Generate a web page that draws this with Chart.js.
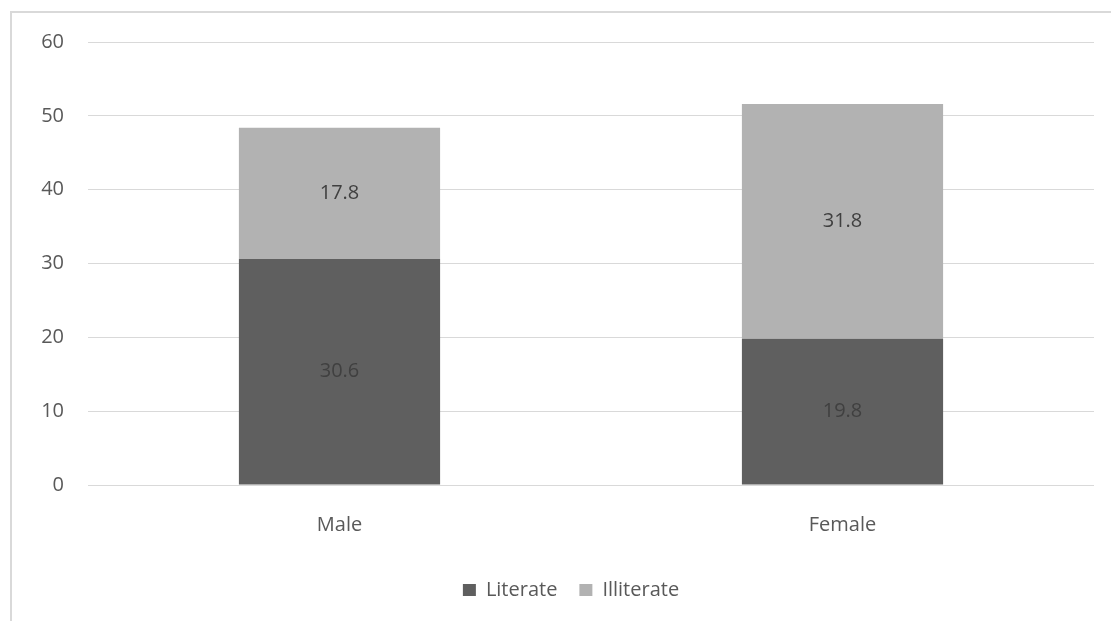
<!DOCTYPE html>
<html>
<head>
<meta charset="utf-8">
<script src="https://cdn.jsdelivr.net/npm/chart.js@4/dist/chart.umd.min.js"></script>
<style>
  html, body { margin: 0; padding: 0; background: #ffffff; }
  #wrap { position: relative; width: 1111px; height: 621px; overflow: hidden; }
  #frame {
    position: absolute; left: 10px; top: 11px; right: -10px; bottom: -10px;
    border-left: 2px solid #d9d9d9; border-top: 2px solid #d9d9d9;
  }
  #chart { position: absolute; left: 0; top: 0; }
</style>
</head>
<body>
<div id="wrap">
  <div id="frame"></div>
  <canvas id="chart" width="1111" height="621"></canvas>
</div>
<script>
// Literacy by sex (percent of population)
const categories = ['Male', 'Female'];
const literate = [30.6, 19.8];
const illiterate = [17.8, 31.8];
const yTicks = [0, 10, 20, 30, 40, 50, 60];

const FONT = { family: '"Open Sans", "Segoe UI", sans-serif', size: 20 };
const TEXT = '#595959';

// Writes each segment's value in the middle of its bar
const segmentLabels = {
  id: 'segmentLabels',
  afterDatasetsDraw(chart) {
    const ctx = chart.ctx;
    ctx.save();
    ctx.font = `${FONT.size}px ${FONT.family}`;
    ctx.fillStyle = '#404040';
    ctx.textAlign = 'center';
    ctx.textBaseline = 'middle';
    chart.data.datasets.forEach((ds, i) => {
      const meta = chart.getDatasetMeta(i);
      meta.data.forEach((bar, j) => {
        const { x, y, base } = bar.getProps(['x', 'y', 'base'], true);
        ctx.fillText(ds.data[j].toFixed(1), x, (y + base) / 2);
      });
    });
    ctx.restore();
  }
};

// Centres the legend under the whole frame rather than the plot column
const legendShift = {
  id: 'legendShift',
  afterLayout(chart) {
    const lg = chart.legend;
    if (lg) { lg.left += 24; lg.right += 24; }
  }
};

new Chart(document.getElementById('chart'), {
  type: 'bar',
  data: {
    labels: categories,
    datasets: [
      { label: 'Literate', data: literate, backgroundColor: '#5f5f5f' },
      { label: 'Illiterate', data: illiterate, backgroundColor: '#b2b2b2' }
    ]
  },
  options: {
    responsive: false,
    animation: false,
    devicePixelRatio: 1,
    layout: { padding: { left: 0, right: 17, top: 42, bottom: 11 } },
    datasets: { bar: { categoryPercentage: 1, barPercentage: 0.4 } },
    scales: {
      x: {
        stacked: true,
        grid: { display: false },
        border: { display: false },
        ticks: { color: TEXT, font: FONT, padding: 20 },
        afterFit(scale) { scale.height = 73; }
      },
      y: {
        stacked: true,
        min: yTicks[0],
        max: yTicks[yTicks.length - 1],
        afterBuildTicks(scale) { scale.ticks = yTicks.map(v => ({ value: v })); },
        grid: { color: '#d9d9d9', lineWidth: 1, drawTicks: false },
        border: { display: false },
        ticks: { color: TEXT, font: FONT, padding: 24 },
        afterFit(scale) { scale.width = 88; }
      }
    },
    plugins: {
      legend: {
        position: 'bottom',
        labels: {
          color: TEXT,
          font: FONT,
          boxWidth: 13,
          boxHeight: 12,
          padding: 22
        }
      },
      tooltip: { enabled: false }
    }
  },
  plugins: [segmentLabels, legendShift]
});
</script>
</body>
</html>
